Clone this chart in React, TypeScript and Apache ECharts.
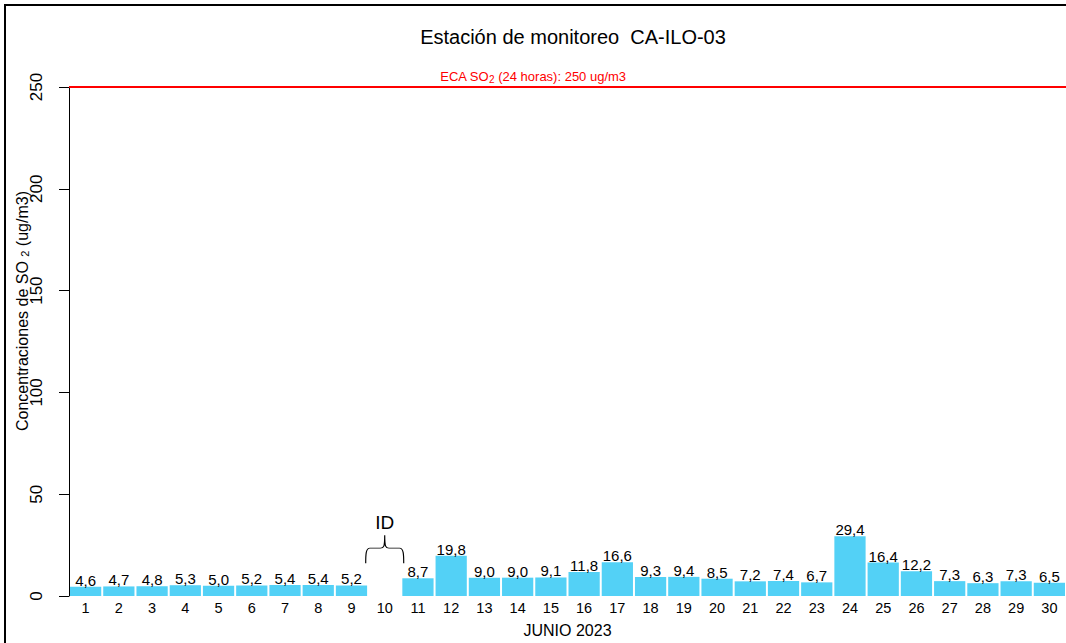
import React, { useEffect, useRef } from "react";
import * as echarts from "echarts";

const days = ["1", "2", "3", "4", "5", "6", "7", "8", "9", "10", "11", "12", "13", "14", "15", "16", "17", "18", "19", "20", "21", "22", "23", "24", "25", "26", "27", "28", "29", "30"];
const so2 = [4.6, 4.7, 4.8, 5.3, 5.0, 5.2, 5.4, 5.4, 5.2, null, 8.7, 19.8, 9.0, 9.0, 9.1, 11.8, 16.6, 9.3, 9.4, 8.5, 7.2, 7.4, 6.7, 29.4, 16.4, 12.2, 7.3, 6.3, 7.3, 6.5];
const ecaLimit = 250;
const yTicks = [0, 50, 100, 150, 200, 250];
const missingDay = "10";
const missingMarkValue = 23;

const FONT = "'Liberation Sans', Arial, sans-serif";
const BRACE = "path://M1 28 C1 20 1 13 5 13 L15 13 C18 13 19 12 19 0 C19 12 20 13 23 13 L33 13 C37 13 37 20 37 28";

export default function App() {
  const ref = useRef<HTMLDivElement>(null);
  useEffect(() => {
    if (!ref.current) return;
    const chart = echarts.init(ref.current, null, { renderer: "svg" });
    chart.setOption({
      animation: false,
      backgroundColor: "#fff",
      textStyle: { fontFamily: FONT },
      title: {
        text: "Estación de monitoreo  CA-ILO-03",
        left: 568,
        textAlign: "center",
        top: 22,
        textStyle: { fontSize: 20, fontWeight: "normal", color: "#000", fontFamily: FONT },
      },
      grid: { left: 69, top: 87, width: 998, height: 514, containLabel: false },
      xAxis: {
        type: "category",
        data: days,
        axisLine: { show: false },
        axisTick: { show: false },
        axisLabel: { fontSize: 14.5, color: "#000", margin: 4, fontFamily: FONT, interval: 0 },
        name: "JUNIO 2023",
        nameLocation: "middle",
        nameGap: 26,
        nameTextStyle: { fontSize: 16, color: "#000", fontFamily: FONT },
      },
      yAxis: {
        type: "value",
        min: yTicks[0],
        max: yTicks[yTicks.length - 1],
        interval: 50,
        splitLine: { show: false },
        axisLine: { show: true, lineStyle: { color: "#000", width: 1 } },
        axisTick: { show: true, length: 10, lineStyle: { color: "#000" } },
        axisLabel: { fontSize: 17, color: "#000", rotate: 90, margin: 24, fontFamily: FONT },
      },
      graphic: [
        {
          type: "rect",
          shape: { x: 5, y: 5, width: 1400, height: 1000 },
          style: { fill: "none", stroke: "#000", lineWidth: 2 },
          silent: true,
          z: -1,
        },
        {
          type: "text",
          x: 22,
          y: 311,
          rotation: Math.PI / 2,
          style: {
            text: "Concentraciones de SO {s|2} (ug/m3)",
            fontSize: 16,
            fontFamily: FONT,
            fill: "#000",
            align: "center",
            verticalAlign: "middle",
            rich: { s: { fontSize: 11, fontFamily: FONT, verticalAlign: "bottom", padding: [4, 0, 0, 0] } },
          },
        },
        {
          type: "text",
          x: 533,
          y: 76,
          style: {
            text: "ECA SO{s|2} (24 horas): 250 ug/m3",
            fontSize: 13,
            fontFamily: FONT,
            fill: "#ff0000",
            align: "center",
            verticalAlign: "middle",
            rich: { s: { fontSize: 10, fontFamily: FONT, fill: "#ff0000", verticalAlign: "bottom", padding: [6, 0, 0, 0] } },
          },
        },
      ],
      series: [
        {
          type: "bar",
          data: so2,
          barCategoryGap: "6%",
          itemStyle: { color: "#53D1F6" },
          label: {
            show: true,
            position: "top",
            distance: -1,
            fontSize: 15,
            color: "#000",
            fontFamily: FONT,
            formatter: (p: any) => (p.value == null ? "" : Number(p.value).toFixed(1).replace(".", ",")),
          },
          markLine: {
            silent: true,
            symbol: "none",
            label: { show: false },
            lineStyle: { color: "#ff0000", width: 2, type: "solid" },
            data: [{ yAxis: ecaLimit }],
          },
          markPoint: {
            silent: true,
            data: [
              {
                coord: [missingDay, missingMarkValue],
                symbol: BRACE,
                symbolSize: [38, 28],
                itemStyle: { color: "none", borderColor: "#000", borderWidth: 1 },
                label: { show: true, formatter: "ID", position: "top", distance: 1, fontSize: 19, color: "#000", fontFamily: FONT },
              },
            ],
          },
        },
      ],
    });
    return () => chart.dispose();
  }, []);
  return <div ref={ref} style={{ position: "absolute", left: 0, top: 0, width: 1066, height: 643 }} />;
}
